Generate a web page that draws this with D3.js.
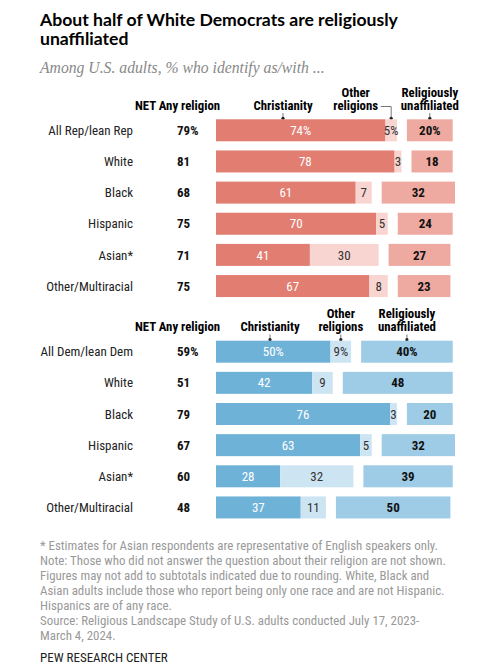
<!DOCTYPE html>
<html>
<head>
<meta charset="utf-8">
<script src="https://cdn.jsdelivr.net/npm/d3@7"></script>
<style>
  body { margin: 0; background: #fff; }
  svg text { font-family: "Roboto Condensed", "Roboto", sans-serif; }
</style>
</head>
<body>
<div id="chart"></div>
<script>
// categories
const repCats = ["All Rep/lean Rep", "White", "Black", "Hispanic", "Asian*", "Other/Multiracial"];
const demCats = ["All Dem/lean Dem", "White", "Black", "Hispanic", "Asian*", "Other/Multiracial"];

// Republicans
const repNet = [79, 81, 68, 75, 71, 75];
const repChristian = [74, 78, 61, 70, 41, 67];
const repOther = [5, 3, 7, 5, 30, 8];
const repUnaffil = [20, 18, 32, 24, 27, 23];

// Democrats
const demNet = [59, 51, 79, 67, 60, 48];
const demChristian = [50, 42, 76, 63, 28, 37];
const demOther = [9, 9, 3, 5, 32, 11];
const demUnaffil = [40, 48, 20, 32, 39, 50];

const footLines = [
  "* Estimates for Asian respondents are representative of English speakers only.",
  "Note: Those who did not answer the question about their religion are not shown.",
  "Figures may not add to subtotals indicated due to rounding. White, Black and",
  "Asian adults include those who report being only one race and are not Hispanic.",
  "Hispanics are of any race.",
  "Source: Religious Landscape Study of U.S. adults conducted July 17, 2023-",
  "March 4, 2024."
];

const W = 495, H = 672;
const svg = d3.select("#chart").append("svg")
    .attr("width", W)
    .attr("height", H);

// title + subtitle
const title = svg.append("g").style("font-family", "Lato, sans-serif")
    .attr("font-size", 17.6).attr("font-weight", "bold").attr("fill", "#000");
title.append("text").attr("x", 40).attr("y", 26).style("font-family", "Lato, sans-serif")
    .text("About half of White Democrats are religiously");
title.append("text").attr("x", 40).attr("y", 45).style("font-family", "Lato, sans-serif")
    .text("unaffiliated");
svg.append("text")
    .attr("x", 40).attr("y", 73)
    .attr("font-size", 15.7).attr("font-style", "italic").attr("fill", "#888")
    .style("font-family", "'Liberation Serif', 'DejaVu Serif', serif")
    .text("Among U.S. adults, % who identify as/with ...");

const x = d3.scaleLinear().domain([0, 100]).range([216, 216 + 229]);
const gap = 10;
const barH = 22;
const step = 31.15;

function panel(cats, net, chr, oth, unaf, colors, barTop, chrHeadX, otherHeadX) {
  const g = svg.append("g");
  const y = d3.scaleBand()
      .domain(cats)
      .range([barTop - (step - barH) / 2, barTop - (step - barH) / 2 + cats.length * step])
      .paddingInner((step - barH) / step)
      .paddingOuter((step - barH) / step / 2);
  const rows = cats.map((c, i) => ({
    cat: c, net: net[i], chr: chr[i], oth: oth[i], unaf: unaf[i], first: i === 0
  }));
  const pct = d => d.first ? "%" : "";
  const fs = 13;
  const hfs = 12.8;

  // headers
  const hy = barTop - 9.8;
  g.append("text").attr("x", 135).attr("y", hy).attr("font-size", hfs).attr("font-weight", "bold")
      .text("NET Any religion");
  g.append("text").attr("x", chrHeadX).attr("y", hy).attr("text-anchor", "middle")
      .attr("font-size", hfs).attr("font-weight", "bold").text("Christianity");

  const r0 = rows[0];
  const othCenter = x(r0.chr + r0.oth / 2);
  const unafStart = x(r0.chr + r0.oth) + gap;
  const unafCenter = unafStart + (x(r0.unaf) - x(0)) / 2;
  const othX = otherHeadX == null ? othCenter : otherHeadX;
  [["Other", hy - 12.8], ["religions", hy]].forEach(([t, yy]) => {
    g.append("text").attr("x", othX).attr("y", yy).attr("text-anchor", "middle")
        .attr("font-size", hfs).attr("font-weight", "bold").text(t);
  });
  [["Religiously", hy - 12.8], ["unaffiliated", hy]].forEach(([t, yy]) => {
    g.append("text").attr("x", unafCenter).attr("y", yy).attr("text-anchor", "middle")
        .attr("font-size", hfs).attr("font-weight", "bold").text(t);
  });

  // pointers
  const dotY = barTop - 1;
  [chrHeadX, othCenter, unafCenter].forEach((px, i) => {
    const path = (i === 1 && otherHeadX != null)
      ? `M${othX + 25},${hy - 3}H${px}V${dotY}`
      : `M${px},${hy + 3.5}V${dotY}`;
    g.append("path").attr("d", path).attr("fill", "none").attr("stroke", "#777").attr("stroke-width", 1);
    g.append("circle").attr("cx", px).attr("cy", dotY).attr("r", 1.6).attr("fill", "#222");
  });

  const row = g.selectAll("g.row").data(rows).enter().append("g").attr("class", "row");
  const cy = d => y(d.cat) + barH / 2 + 4.6;

  row.append("text").attr("x", 133).attr("y", cy).attr("text-anchor", "end")
      .attr("font-size", fs).attr("fill", "#222").text(d => d.cat);
  row.append("text").attr("x", 177).attr("y", cy).attr("font-size", fs)
      .attr("font-weight", "bold").attr("fill", "#111").text(d => d.net + pct(d));

  // christianity
  row.append("rect").attr("x", x(0)).attr("y", d => y(d.cat))
      .attr("width", d => x(d.chr) - x(0)).attr("height", barH).attr("fill", colors[0]);
  row.append("text").attr("x", d => (x(0) + x(d.chr)) / 2).attr("y", cy)
      .attr("text-anchor", "middle").attr("font-size", fs).attr("fill", "#fff")
      .text(d => d.chr + pct(d));

  // other religions
  row.append("rect").attr("x", d => x(d.chr)).attr("y", d => y(d.cat))
      .attr("width", d => x(d.oth) - x(0)).attr("height", barH).attr("fill", colors[1]);
  row.append("text").attr("x", d => x(d.chr + d.oth / 2)).attr("y", cy)
      .attr("text-anchor", "middle").attr("font-size", fs).attr("fill", "#333")
      .text(d => d.oth + pct(d));

  // unaffiliated
  row.append("rect").attr("x", d => x(d.chr + d.oth) + gap).attr("y", d => y(d.cat))
      .attr("width", d => x(d.unaf) - x(0)).attr("height", barH).attr("fill", colors[2]);
  row.append("text").attr("x", d => x(d.chr + d.oth) + gap + (x(d.unaf) - x(0)) / 2).attr("y", cy)
      .attr("text-anchor", "middle").attr("font-size", fs).attr("font-weight", "bold").attr("fill", "#111")
      .text(d => d.unaf + pct(d));
}

panel(repCats, repNet, repChristian, repOther, repUnaffil,
      ["#e27d72", "#f8d5d1", "#eeaaa1"], 119.3, 283, 355.7);
panel(demCats, demNet, demChristian, demOther, demUnaffil,
      ["#6fb2d8", "#cde4f2", "#9ecbe5"], 340.7, 270, null);

// notes
const notes = svg.append("g").attr("font-size", 12.9).attr("fill", "#999");
footLines.forEach((t, i) => {
  notes.append("text").attr("x", 40).attr("y", 549.5 + i * 15).text(t);
});
svg.append("text").attr("x", 40).attr("y", 662).attr("font-size", 13).attr("fill", "#222")
    .text("PEW RESEARCH CENTER");
</script>
</body>
</html>
